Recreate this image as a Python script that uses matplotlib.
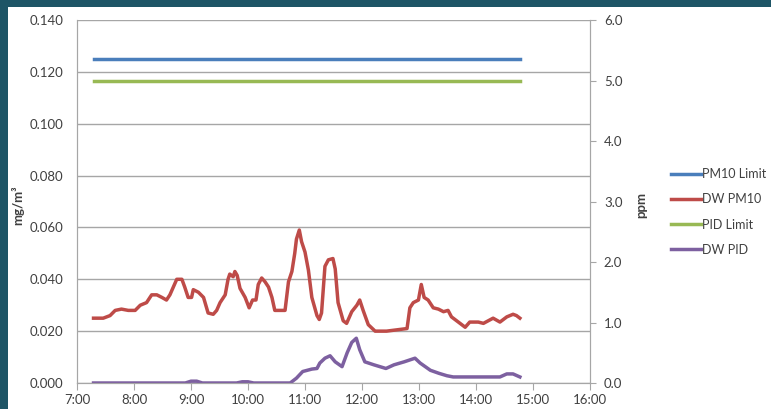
import matplotlib
matplotlib.use("Agg")
import matplotlib.pyplot as plt
from matplotlib.patches import Rectangle

# czas w godzinach (dziesietnie)
pm10_t = [7.29, 7.46, 7.58, 7.67, 7.78, 7.90, 8.02, 8.11, 8.22, 8.31, 8.40, 8.49, 8.57, 8.63,
          8.69, 8.75, 8.84, 8.89, 8.95, 9.01, 9.04, 9.13, 9.22, 9.30, 9.39, 9.45, 9.51, 9.60,
          9.65, 9.68, 9.74, 9.77, 9.81, 9.86, 9.95, 10.02, 10.08, 10.14, 10.18, 10.24, 10.30,
          10.36, 10.42, 10.47, 10.56, 10.65, 10.71, 10.77, 10.82, 10.85, 10.90, 10.94, 11.00,
          11.06, 11.12, 11.21, 11.25, 11.29, 11.35, 11.41, 11.49, 11.53, 11.58, 11.67, 11.73,
          11.82, 11.91, 11.96, 12.02, 12.11, 12.23, 12.43, 12.61, 12.79, 12.84, 12.90, 12.99,
          13.04, 13.09, 13.16, 13.25, 13.34, 13.43, 13.51, 13.57, 13.69, 13.81, 13.89, 14.04,
          14.13, 14.30, 14.42, 14.54, 14.65, 14.71, 14.77]
pm10 = [0.025, 0.025, 0.026, 0.028, 0.0285, 0.028, 0.028, 0.030, 0.031, 0.034, 0.034, 0.033,
        0.032, 0.034, 0.037, 0.040, 0.040, 0.037, 0.033, 0.033, 0.036, 0.035, 0.033, 0.027,
        0.0265, 0.028, 0.031, 0.034, 0.040, 0.042, 0.041, 0.043, 0.0415, 0.0365, 0.033, 0.029,
        0.032, 0.032, 0.038, 0.0405, 0.039, 0.037, 0.033, 0.028, 0.028, 0.028, 0.039, 0.043,
        0.050, 0.0555, 0.059, 0.0545, 0.0505, 0.0435, 0.033, 0.026, 0.0245, 0.027, 0.045,
        0.0475, 0.048, 0.044, 0.031, 0.024, 0.023, 0.0275, 0.030, 0.032, 0.028, 0.0225, 0.020,
        0.020, 0.0205, 0.021, 0.029, 0.031, 0.032, 0.038, 0.033, 0.032, 0.029, 0.0285, 0.0275,
        0.028, 0.0255, 0.0235, 0.0215, 0.0235, 0.0235, 0.023, 0.025, 0.0235, 0.0255, 0.0265,
        0.026, 0.025]

pid_t = [7.29, 8.90, 9.00, 9.10, 9.20, 9.80, 9.90, 10.00, 10.10, 10.74, 10.85, 10.96, 11.04,
         11.12, 11.21, 11.26, 11.35, 11.44, 11.53, 11.65, 11.74, 11.82, 11.90, 11.96, 12.05,
         12.21, 12.42, 12.56, 12.74, 12.93, 13.02, 13.20, 13.35, 13.49, 13.60, 13.84, 14.07,
         14.42, 14.54, 14.65, 14.77]
pid = [0.0, 0.0, 0.03, 0.03, 0.0, 0.0, 0.02, 0.02, 0.0, 0.0, 0.08, 0.19, 0.21, 0.23, 0.24,
       0.33, 0.41, 0.45, 0.35, 0.27, 0.50, 0.67, 0.74, 0.55, 0.35, 0.30, 0.24, 0.30, 0.35, 0.41,
       0.33, 0.21, 0.16, 0.12, 0.10, 0.10, 0.10, 0.10, 0.15, 0.15, 0.10]

limit_t = [7.29, 14.77]
pm10_limit = [0.125, 0.125]
pid_limit = [5.0, 5.0]

teal = "#1e5566"
grey = "#a6a6a6"
txt = "#404040"
plt.rcParams["font.family"] = ["Lato", "DejaVu Sans"]

fig = plt.figure(figsize=(7.71, 4.09), dpi=100, facecolor=teal)
fig.patches.append(Rectangle((8 / 771, 0), 1, 1 - 7 / 409, transform=fig.transFigure,
                             facecolor="white", edgecolor="none", zorder=-1))

ax = fig.add_axes([77 / 771, 1 - 383 / 409, 513 / 771, 363 / 409])
ax2 = ax.twinx()
ax.set_facecolor("none")

l1, = ax.plot(limit_t, pm10_limit, color="#4a7ebb", lw=2.5, label="PM10 Limit")
l2, = ax.plot(pm10_t, pm10, color="#be4b48", lw=2.5, label="DW PM10")
l3, = ax2.plot(limit_t, pid_limit, color="#98b954", lw=2.5, label="PID Limit")
l4, = ax2.plot(pid_t, pid, color="#7d60a0", lw=2.5, label="DW PID")

ax.set_xlim(7, 16)
ax.set_ylim(0, 0.14)
ax2.set_ylim(0, 6)
ax.set_xticks(range(7, 17))
ax.set_xticklabels([f"{h}:00" for h in range(7, 17)])
ax.set_yticks([i * 0.02 for i in range(8)])
ax.set_yticklabels([f"{i * 0.02:.3f}" for i in range(8)])
ax2.set_yticks(range(7))
ax2.set_yticklabels([f"{v:.1f}" for v in range(7)])

ax.grid(axis="y", color=grey, lw=1)
ax.set_axisbelow(True)
for a in (ax, ax2):
    for s in a.spines.values():
        s.set_color(grey)
    a.spines["top"].set_visible(False)
ax.tick_params(axis="y", length=0, pad=10, labelsize=9.5, labelcolor=txt)
ax.tick_params(axis="x", length=5, color=grey, pad=3, labelsize=9.5, labelcolor=txt)
ax2.tick_params(axis="y", length=4, color=grey, pad=6, labelsize=9.5, labelcolor=txt)

ax.set_ylabel("mg/m\u00b3", fontsize=9.5, fontweight="bold", color=txt)
ax.yaxis.set_label_coords(-0.103, 0.49)
ax2.set_ylabel("ppm", fontsize=9.5, fontweight="bold", color=txt)
ax2.yaxis.set_label_coords(1.088, 0.49)

fig.legend(handles=[l1, l2, l3, l4], loc="upper left", bbox_to_anchor=(660 / 771, 1 - 157 / 409),
           frameon=False, fontsize=9, handlelength=2.4, handletextpad=0.1,
           labelspacing=1.05, labelcolor=txt)

fig.savefig("out.png", dpi=100, facecolor=teal)
